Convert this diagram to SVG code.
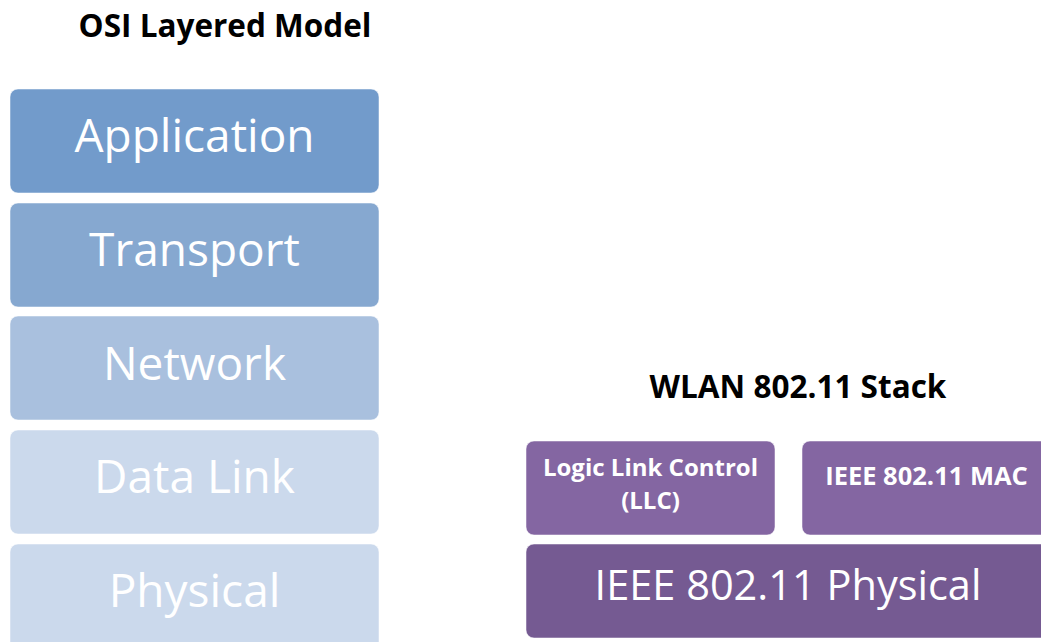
<svg xmlns="http://www.w3.org/2000/svg" width="1041" height="642" viewBox="0 0 1041 642">
<style>
.title{font-family:"Open Sans","Noto Sans","Liberation Sans",sans-serif;font-weight:bold;font-size:31.5px;fill:#000;text-anchor:middle}
.osi{font-family:"Open Sans","Noto Sans","Liberation Sans",sans-serif;font-size:46px;fill:#fff;text-anchor:middle}
.wl{font-family:"Open Sans","Noto Sans","Liberation Sans",sans-serif;font-weight:bold;font-size:24px;fill:#fff;text-anchor:middle}
.wm{font-family:"Open Sans","Noto Sans","Liberation Sans",sans-serif;font-weight:bold;font-size:25.5px;fill:#fff;text-anchor:middle}
.wp{font-family:"Open Sans","Noto Sans","Liberation Sans",sans-serif;font-size:41.5px;fill:#fff;text-anchor:middle}
.box{stroke:#ffffff;stroke-opacity:0.5;stroke-width:1}
</style>
<rect width="1041" height="642" fill="#fff"/>
<text class="title" x="225" y="37">OSI Layered Model</text>
<text class="title" x="798" y="398">WLAN 802.11 Stack</text>
<g id="application"><rect class="box" x="10" y="89" width="369" height="104" rx="8" fill="#729BCB"/><text class="osi" x="194.5" y="152">Application</text></g>
<g id="transport"><rect class="box" x="10" y="203" width="369" height="104" rx="8" fill="#86A8D0"/><text class="osi" x="194.5" y="266">Transport</text></g>
<g id="network"><rect class="box" x="10" y="316" width="369" height="104" rx="8" fill="#A9C0DE"/><text class="osi" x="194.5" y="380">Network</text></g>
<g id="datalink"><rect class="box" x="10" y="430" width="369" height="104" rx="8" fill="#CBD9EC"/><text class="osi" x="194.5" y="493">Data Link</text></g>
<g id="physical"><rect class="box" x="10" y="544" width="369" height="120" rx="8" fill="#CBD9EC"/><text class="osi" x="194.5" y="607">Physical</text></g>
<g id="llc"><rect class="box" x="526" y="441" width="249" height="94" rx="8" fill="#8466A2"/><text class="wl" x="650.5" y="476">Logic Link Control</text><text class="wl" x="650.5" y="509">(LLC)</text></g>
<g id="mac"><rect class="box" x="802" y="441" width="260" height="94" rx="8" fill="#8466A2"/><text class="wm" x="926.5" y="485">IEEE 802.11 MAC</text></g>
<g id="wlan-physical"><rect class="box" x="526" y="544" width="536" height="94" rx="8" fill="#755A92"/><text class="wp" x="788" y="600">IEEE 802.11 Physical</text></g>
<g id="connectors"/>
</svg>
